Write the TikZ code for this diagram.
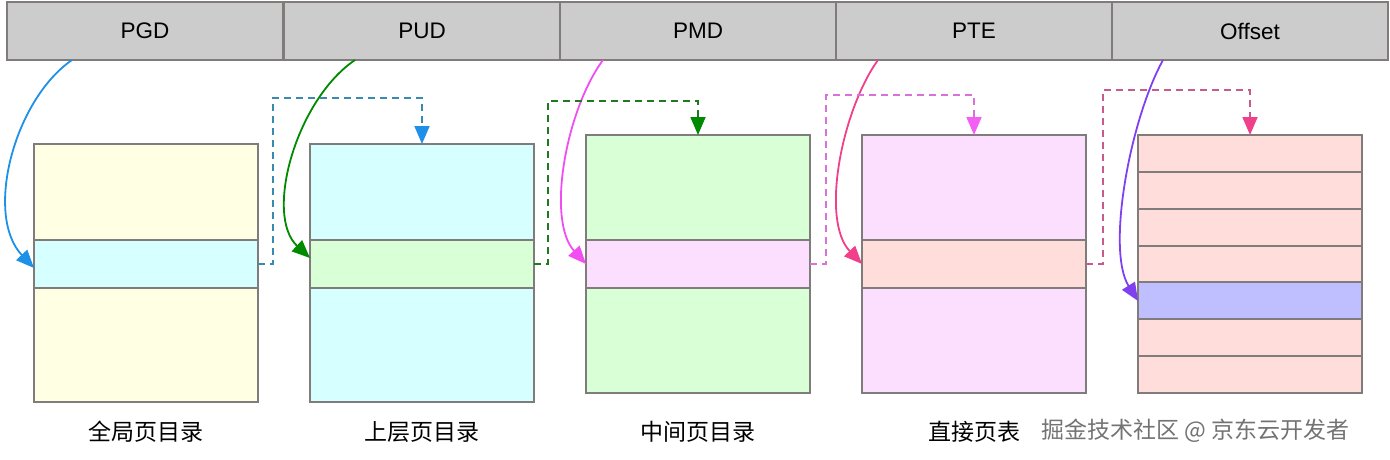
\documentclass[tikz,border=0pt]{standalone}
\usepackage{fontspec}
\setmainfont{Liberation Sans}
\newfontfamily\cjk{Noto Sans CJK SC}
\usetikzlibrary{arrows.meta,calc}

\definecolor{edge}{HTML}{807C7C}
\definecolor{barfill}{HTML}{CCCCCC}
\definecolor{yellowfill}{HTML}{FFFFE3}
\definecolor{cyanfill}{HTML}{D6FFFF}
\definecolor{greenfill}{HTML}{D9FFD6}
\definecolor{pinkfill}{HTML}{FCDFFF}
\definecolor{salmonfill}{HTML}{FEDDDA}
\definecolor{lavender}{HTML}{BFBFFF}
\definecolor{cblue}{HTML}{1E90E8}
\definecolor{dblue}{HTML}{3A8AB0}
\definecolor{cgreen}{HTML}{008A00}
\definecolor{dgreen}{HTML}{1F7A1F}
\definecolor{cmag}{HTML}{F24DF2}
\definecolor{dmag}{HTML}{D872D8}
\definecolor{cred}{HTML}{F0408A}
\definecolor{dred}{HTML}{C85A8C}
\definecolor{cpurple}{HTML}{8040F0}

\begin{document}
\begin{tikzpicture}[x=1pt,y=-1pt,
  cell/.style={draw=edge,fill=barfill,line width=2pt,minimum width=276pt,minimum height=58pt,
    inner sep=0pt,outer sep=0pt,anchor=north west,font=\fontsize{22.5}{26}\selectfont},
  block/.style={draw=edge,line width=2pt,minimum width=224pt,inner sep=0pt,outer sep=0pt,anchor=north west},
  lab/.style={font=\cjk\fontsize{23}{26}\selectfont},
  link/.style={line width=1.8pt,-{Triangle[length=18pt,width=15pt]}},
  jump/.style={line width=1.8pt,dash pattern=on 7pt off 5pt},
]
\useasboundingbox (0,0) rectangle (1390,460);

% address fields
\node[cell] (pgd) at (7,2) {PGD};
\node[cell] (pud) at (284,2) {PUD};
\node[cell] (pmd) at (560,2) {PMD};
\node[cell] (pte) at (836,2) {PTE};
\node[cell,minimum width=276pt] (off) at (1112,2) {Offset};

% page directories
\node[block,fill=yellowfill,minimum height=258pt] (t1) at (34,144) {};
\node[block,fill=cyanfill,minimum height=48pt] (e1) at (34,240) {};
\node[block,fill=cyanfill,minimum height=258pt] (t2) at (310,144) {};
\node[block,fill=greenfill,minimum height=48pt] (e2) at (310,240) {};
\node[block,fill=greenfill,minimum height=258pt] (t3) at (586,135) {};
\node[block,fill=pinkfill,minimum height=48pt] (e3) at (586,240) {};
\node[block,fill=pinkfill,minimum height=258pt] (t4) at (862,135) {};
\node[block,fill=salmonfill,minimum height=48pt] (e4) at (862,240) {};

% page with its entries
\foreach \i in {1,...,7}{
  \node[block,fill=salmonfill,minimum height=37pt] (r\i) at (1138,{135+(\i-1)*36.86}) {};
}
\node[block,fill=lavender,minimum height=37pt] (r5) at (1138,{135+4*36.86}) {};
\node[block,minimum height=258pt] (t5) at (1138,135) {};

% captions
\node[lab] (l1) at (146,432) {全局页目录};
\node[lab] (l2) at (422,432) {上层页目录};
\node[lab] (l3) at (698,432) {中间页目录};
\node[lab] (l4) at (974,432) {直接页表};
\node[lab,anchor=west,text=black!55] (wm) at (1038,431) {掘金技术社区 @ 京东云开发者};

% index selects an entry
\coordinate (s1) at (72,60);
\coordinate (s2) at (355,60);
\coordinate (s3) at (603,60);
\coordinate (s4) at (878,60);
\coordinate (s5) at (1163,60);
\draw[link,cblue] (s1) .. controls (14,100) and (-16,215) .. ($(e1.west)+(0,4)$);
\draw[link,cgreen] (s2) .. controls (296,100) and (264,215) .. ($(e2.west)+(0,-6)$);
\draw[link,cmag] (s3) .. controls (566,110) and (546,220) .. (e3.west);
\draw[link,cred] (s4) .. controls (842,110) and (820,220) .. (e4.west);
\draw[link,cpurple] (s5) .. controls (1130,120) and (1106,250) .. (r5.west);

% entry points to the next table
\draw[jump,dblue,-{Triangle[length=18pt,width=15pt,color=cblue]}]
  (e1.east) -- ++(15,0) |- ($(t2.north)+(0,-46)$) -- (t2.north);
\draw[jump,dgreen,-{Triangle[length=18pt,width=15pt,color=cgreen]}]
  (e2.east) -- ++(14,0) |- ($(t3.north)+(0,-34)$) -- (t3.north);
\draw[jump,dmag,-{Triangle[length=18pt,width=15pt,color=cmag!90!white]}]
  (e3.east) -- ++(16,0) |- ($(t4.north)+(0,-40)$) -- (t4.north);
\draw[jump,dred,-{Triangle[length=18pt,width=15pt,color=cred]}]
  (e4.east) -- ++(17,0) |- ($(t5.north)+(0,-45)$) -- (t5.north);
\end{tikzpicture}
\end{document}
